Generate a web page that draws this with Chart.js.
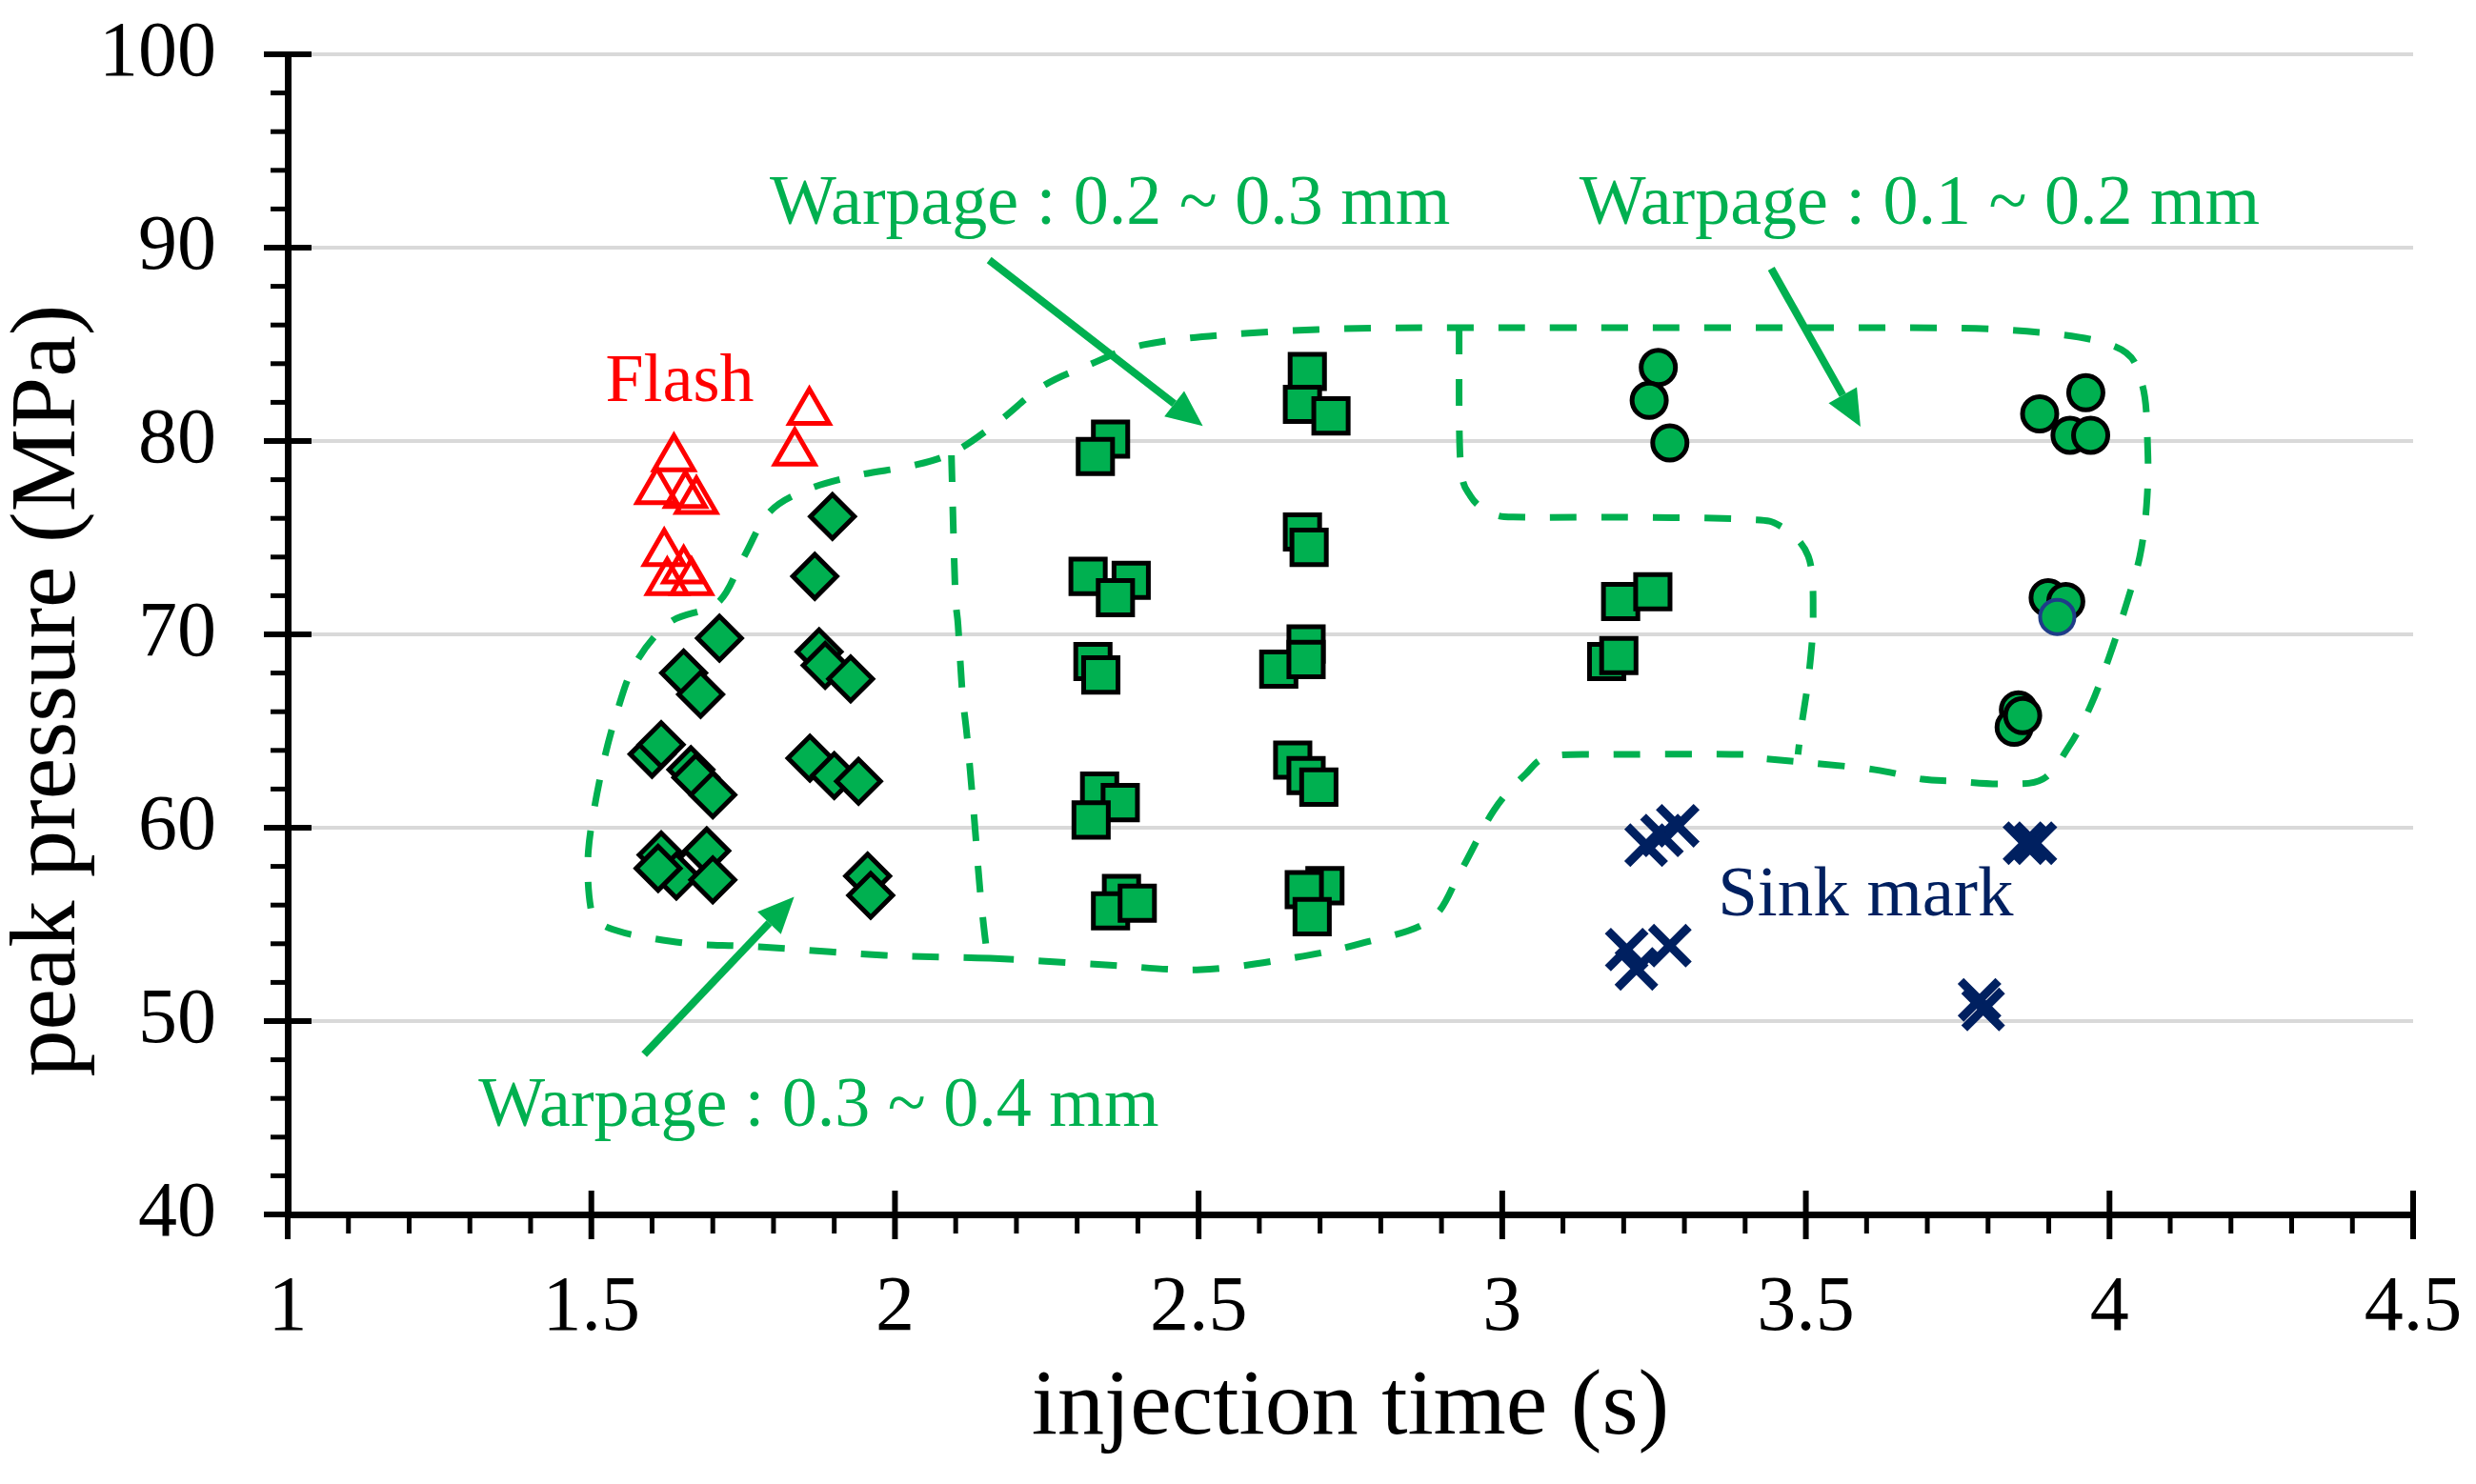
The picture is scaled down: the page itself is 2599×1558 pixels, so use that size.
<!DOCTYPE html>
<html>
<head>
<meta charset="utf-8">
<script src="https://cdn.jsdelivr.net/npm/chart.js@4.4.1/dist/chart.umd.min.js"></script>
<style>
html,body{margin:0;padding:0;background:#ffffff;}
#wrap{width:2599px;height:1558px;position:relative;}
</style>
</head>
<body>
<div id="wrap"><canvas id="c" width="2599" height="1558"></canvas></div>
<script>
// ---------------- DATA ----------------
// Flash (red hollow triangles)
const flashTime     = [1.636, 1.608, 1.673, 1.655, 1.620, 1.652, 1.625, 1.665, 1.859, 1.835];
const flashPressure = [79.1, 77.4, 76.9, 77.2, 74.2, 73.3, 72.7, 72.7, 81.5, 79.4];

// Warpage 0.3 ~ 0.4 mm (green diamonds)
const diamondTime     = [1.897, 1.868, 1.875, 1.885, 1.927, 1.860, 1.900, 1.940, 1.955, 1.960,
                         1.711, 1.652, 1.680, 1.600, 1.615, 1.664, 1.672, 1.700, 1.615, 1.690, 1.640, 1.700, 1.610];
const diamondPressure = [76.1, 73.0, 69.1, 68.4, 67.7, 63.6, 62.7, 62.4, 57.5, 56.5,
                         69.8, 68.0, 66.9, 63.8, 64.3, 63.0, 62.6, 61.7, 58.6, 58.8, 57.5, 57.3, 57.9];

// Warpage 0.2 ~ 0.3 mm (green squares)
const squareTime     = [2.355, 2.330, 2.318, 2.389, 2.363, 2.326, 2.339, 2.337, 2.371, 2.323, 2.373, 2.355, 2.399,
                        2.679, 2.671, 2.718, 2.671, 2.682, 2.677, 2.632, 2.677, 2.655, 2.677, 2.698, 2.708, 2.674, 2.687,
                        3.195, 3.248, 3.172, 3.192];
const squarePressure = [80.1, 79.2, 73.0, 72.8, 71.9, 68.6, 67.9, 61.9, 61.3, 60.4, 56.6, 55.7, 56.1,
                        83.6, 81.9, 81.3, 75.3, 74.5, 69.5, 68.2, 68.7, 63.5, 62.7, 62.1, 57.0, 56.8, 55.4,
                        71.7, 72.2, 68.6, 68.9];

// Warpage 0.1 ~ 0.2 mm (green circles)
const circleTime     = [3.257, 3.242, 3.276, 3.961, 3.885, 3.935, 3.969, 3.899, 3.928, 3.850, 3.843, 3.857];
const circlePressure = [83.8, 82.1, 79.9, 82.5, 81.4, 80.3, 80.3, 71.9, 71.7, 66.1, 65.2, 65.8];
const blueCircleTime     = [3.914];
const blueCirclePressure = [70.9];

// Sink mark (navy crosses)
const sinkTime     = [3.237, 3.263, 3.289, 3.205, 3.221, 3.276, 3.860, 3.878, 3.786, 3.792];
const sinkPressure = [59.1, 59.6, 60.1, 53.7, 52.7, 53.9, 59.2, 59.2, 51.1, 50.6];

// Axis settings and tick labels
const xMin = 1, xMax = 4.5, xStep = 0.5;
const yMin = 40, yMax = 100, yStep = 10;
const xTickLabels = ['1', '1.5', '2', '2.5', '3', '3.5', '4', '4.5'];
const yTickLabels = ['40', '50', '60', '70', '80', '90', '100'];
const xTitle = 'injection time (s)';
const yTitle = 'peak pressure (MPa)';

// ---------------- ANNOTATIONS (in data coordinates) ----------------
const GREEN = '#00b050', RED = '#ff0000', NAVY = '#002060';
const annotationTexts = [
  {text: 'Flash', t: 1.523, p: 82.07, color: RED, size: 72},
  {text: 'Warpage : 0.2 ~ 0.3 mm', t: 1.794, p: 91.23, color: GREEN, size: 74},
  {text: 'Warpage : 0.1 ~ 0.2 mm', t: 3.127, p: 91.23, color: GREEN, size: 74},
  {text: 'Warpage : 0.3 ~ 0.4 mm', t: 1.314, p: 44.58, color: GREEN, size: 74},
  {text: 'Sink mark', t: 3.355, p: 55.47, color: NAVY, size: 75}
];
const outlineOuter = [[2.157,53.25],[1.983,53.40],[1.776,53.84],[1.667,53.99],[1.582,54.38],[1.542,54.68],[1.515,55.07],[1.499,55.86],
  [1.495,58.77],[1.515,62.66],[1.542,65.96],[1.573,68.52],[1.630,70.64],[1.708,71.63],[1.750,73.94],[1.793,76.31],[1.856,77.49],
  [1.939,78.23],[2.028,78.72],[2.096,79.41],[2.170,80.99],[2.242,82.81],[2.316,83.89],[2.410,84.98],[2.556,85.52],[2.738,85.81],
  [2.929,85.86],[3.195,85.86],[3.509,85.86],[3.823,85.76],[4.006,84.93],[4.053,83.00],[4.063,79.51],[4.061,76.65],[4.050,74.04],
  [4.027,71.48],[4.000,68.87],[3.969,66.31],[3.933,64.19],[3.890,62.51],[3.823,62.27],[3.744,62.41],[3.692,62.51],[3.614,63.00],
  [3.509,63.35],[3.425,63.60],[3.394,63.79],[3.195,63.79],[3.080,63.69],[3.038,62.76],[2.986,60.89],[2.932,57.78],[2.881,55.22],
  [2.771,54.04],[2.661,53.30],[2.504,52.66],[2.347,52.91]];
const outlineAB = [[2.093,79.26],[2.099,72.41],[2.104,70.44],[2.111,66.95],[2.119,64.63],[2.130,60.69],[2.140,56.80],[2.151,53.69],[2.157,53.25]];
const outlineBC = [[2.929,85.86],[2.931,79.01],[2.948,77.14],[2.986,76.21],[3.038,76.06],[3.195,76.06],[3.394,75.96],[3.457,75.62],
  [3.504,74.04],[3.512,70.99],[3.505,67.93],[3.493,65.32],[3.487,63.79]];
const arrows = [
  {from: [2.155, 89.36], to: [2.507, 80.78]},
  {from: [3.443, 88.92], to: [3.590, 80.74]},
  {from: [1.587, 48.28], to: [1.834, 56.43]}
];

// ---------------- helpers ----------------
const pts = (xs, ys) => xs.map((x, i) => ({x: x, y: ys[i]}));
const FONT = '"Liberation Serif", "Times New Roman", serif';

function smoothPath(ctx, p, closed) {
  const n = p.length;
  const get = i => closed ? p[(i + n) % n] : p[Math.max(0, Math.min(n - 1, i))];
  ctx.beginPath();
  ctx.moveTo(p[0][0], p[0][1]);
  const segs = closed ? n : n - 1;
  for (let i = 0; i < segs; i++) {
    const p0 = get(i - 1), p1 = get(i), p2 = get(i + 1), p3 = get(i + 2);
    ctx.bezierCurveTo(p1[0] + (p2[0] - p0[0]) / 6, p1[1] + (p2[1] - p0[1]) / 6,
                      p2[0] - (p3[0] - p1[0]) / 6, p2[1] - (p3[1] - p1[1]) / 6, p2[0], p2[1]);
  }
  if (closed) ctx.closePath();
  ctx.stroke();
}

const decorPlugin = {
  id: 'decor',
  beforeDatasetsDraw(chart) {
    const {ctx, scales: {x, y}} = chart;
    const toPx = a => a.map(q => [x.getPixelForValue(q[0]), y.getPixelForValue(q[1])]);
    ctx.save();
    ctx.strokeStyle = GREEN;
    ctx.lineWidth = 7;
    ctx.setLineDash([28, 26]);
    ctx.lineCap = 'butt';
    smoothPath(ctx, toPx(outlineOuter), true);
    smoothPath(ctx, toPx(outlineAB), false);
    smoothPath(ctx, toPx(outlineBC), false);
    ctx.restore();
  },
  afterDatasetsDraw(chart) {
    const {ctx, scales: {x, y}} = chart;
    ctx.save();
    ctx.strokeStyle = GREEN; ctx.fillStyle = GREEN; ctx.setLineDash([]);
    arrows.forEach(a => {
      const x1 = x.getPixelForValue(a.from[0]), y1 = y.getPixelForValue(a.from[1]);
      const x2 = x.getPixelForValue(a.to[0]), y2 = y.getPixelForValue(a.to[1]);
      const ang = Math.atan2(y2 - y1, x2 - x1), L = 38, W = 17;
      const bx = x2 - L * Math.cos(ang), by = y2 - L * Math.sin(ang);
      ctx.lineWidth = 8;
      ctx.beginPath(); ctx.moveTo(x1, y1); ctx.lineTo(bx, by); ctx.stroke();
      ctx.beginPath(); ctx.moveTo(x2, y2);
      ctx.lineTo(bx - W * Math.sin(ang), by + W * Math.cos(ang));
      ctx.lineTo(bx + W * Math.sin(ang), by - W * Math.cos(ang));
      ctx.closePath(); ctx.fill();
    });
    ctx.textAlign = 'left'; ctx.textBaseline = 'alphabetic';
    annotationTexts.forEach(a => {
      ctx.font = a.size + 'px ' + FONT;
      ctx.fillStyle = a.color;
      ctx.fillText(a.text, x.getPixelForValue(a.t), y.getPixelForValue(a.p));
    });
    ctx.restore();
  },
  afterDraw(chart) {
    const {ctx, scales: {x, y}} = chart;
    ctx.save();
    ctx.strokeStyle = '#000';
    ctx.setLineDash([]);
    const xb = y.getPixelForValue(yMin), yl = x.getPixelForValue(xMin);
    x.ticks.forEach((tk, i) => {
      const px = x.getPixelForValue(tk.value);
      ctx.lineWidth = 6; ctx.beginPath(); ctx.moveTo(px, xb - 25); ctx.lineTo(px, xb + 26); ctx.stroke();
      if (i < x.ticks.length - 1) {
        for (let k = 1; k < 5; k++) {
          const mp = x.getPixelForValue(tk.value + k * xStep / 5);
          ctx.lineWidth = 5; ctx.beginPath(); ctx.moveTo(mp, xb); ctx.lineTo(mp, xb + 20); ctx.stroke();
        }
      }
    });
    y.ticks.forEach((tk, i) => {
      const py = y.getPixelForValue(tk.value);
      ctx.lineWidth = 6; ctx.beginPath(); ctx.moveTo(yl - 25, py); ctx.lineTo(yl + 25, py); ctx.stroke();
      if (i < y.ticks.length - 1) {
        for (let k = 1; k < 5; k++) {
          const mp = y.getPixelForValue(tk.value + k * yStep / 5);
          ctx.lineWidth = 5; ctx.beginPath(); ctx.moveTo(yl - 18, mp); ctx.lineTo(yl, mp); ctx.stroke();
        }
      }
    });
    ctx.translate(52, (y.top + y.bottom) / 2 + 59);
    ctx.rotate(-Math.PI / 2);
    ctx.font = '98px ' + FONT;
    ctx.fillStyle = '#000';
    ctx.textAlign = 'center'; ctx.textBaseline = 'middle';
    ctx.fillText(yTitle, 0, 0);
    ctx.restore();
  }
};

const datasets = [
  {label: 'Flash', data: pts(flashTime, flashPressure), pointStyle: 'triangle', pointRadius: 24,
   pointBackgroundColor: 'rgba(0,0,0,0)', pointBorderColor: RED, pointBorderWidth: 5},
  {label: 'Sink mark', data: pts(sinkTime, sinkPressure), pointStyle: 'crossRot', pointRadius: 28,
   pointBackgroundColor: NAVY, pointBorderColor: NAVY, pointBorderWidth: 9},
  {label: 'Warpage 0.1-0.2 (blue edge)', data: pts(blueCircleTime, blueCirclePressure), pointStyle: 'circle', pointRadius: 18,
   pointBackgroundColor: GREEN, pointBorderColor: '#1f3c88', pointBorderWidth: 4},
  {label: 'Warpage 0.1-0.2', data: pts(circleTime, circlePressure), pointStyle: 'circle', pointRadius: 18,
   pointBackgroundColor: GREEN, pointBorderColor: '#000', pointBorderWidth: 5},
  {label: 'Warpage 0.2-0.3', data: pts(squareTime, squarePressure), pointStyle: 'rect', pointRadius: 25.5,
   pointBackgroundColor: GREEN, pointBorderColor: '#000', pointBorderWidth: 5},
  {label: 'Warpage 0.3-0.4', data: pts(diamondTime, diamondPressure), pointStyle: 'rectRot', pointRadius: 23,
   pointBackgroundColor: GREEN, pointBorderColor: '#000', pointBorderWidth: 5}
];

new Chart(document.getElementById('c'), {
  type: 'scatter',
  data: {datasets: datasets},
  options: {
    responsive: false,
    animation: false,
    devicePixelRatio: 1,
    events: [],
    layout: {padding: {left: 0, right: 66, top: 57, bottom: 0}},
    plugins: {legend: {display: false}, tooltip: {enabled: false}},
    scales: {
      x: {
        type: 'linear', min: xMin, max: xMax,
        ticks: {stepSize: xStep, color: '#000', padding: 50, font: {family: FONT, size: 82}, maxRotation: 0,
                callback: (v, i) => xTickLabels[i]},
        grid: {display: false, drawTicks: false},
        border: {display: true, color: '#000', width: 7},
        title: {display: true, text: xTitle, color: '#000', font: {family: FONT, size: 98}, padding: {top: 0, bottom: 20}},
        afterFit: s => { s.height = 283; s.paddingLeft = 0; s.paddingRight = 0; }
      },
      y: {
        type: 'linear', min: yMin, max: yMax,
        ticks: {stepSize: yStep, color: '#000', padding: 75, font: {family: FONT, size: 82},
                callback: (v, i) => yTickLabels[i]},
        grid: {display: true, color: '#d9d9d9', lineWidth: 4, drawTicks: false},
        border: {display: true, color: '#000', width: 7},
        title: {display: false},
        afterFit: s => { s.width = 302; s.paddingTop = 0; s.paddingBottom = 0; }
      }
    }
  },
  plugins: [decorPlugin]
});
</script>
</body>
</html>
